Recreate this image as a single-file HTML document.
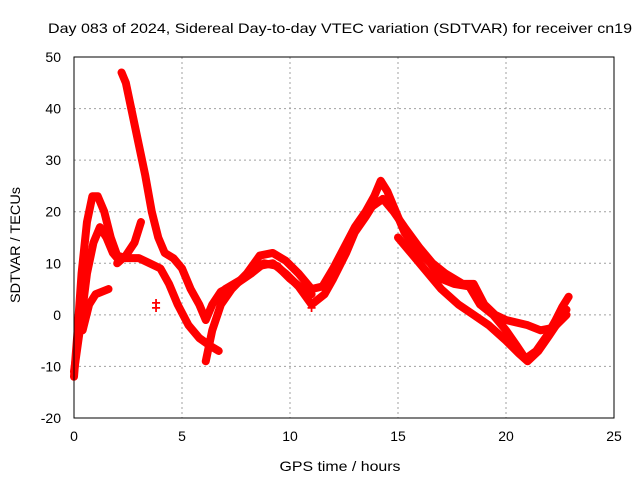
<!DOCTYPE html>
<html><head><meta charset="utf-8"><style>
body{margin:0;background:#fff}
svg{display:block;font-family:"Liberation Sans",sans-serif}
</style></head><body>
<svg id="chart" width="640" height="480">
<text x="340" y="33" text-anchor="middle" font-size="14" textLength="584" lengthAdjust="spacingAndGlyphs">Day 083 of 2024, Sidereal Day-to-day VTEC variation (SDTVAR) for receiver cn19</text>
<text x="340" y="471" text-anchor="middle" font-size="14" textLength="121" lengthAdjust="spacingAndGlyphs">GPS time / hours</text>
<text transform="translate(20,245) rotate(-90)" text-anchor="middle" font-size="14" textLength="116" lengthAdjust="spacingAndGlyphs">SDTVAR / TECUs</text>
<g id="grid"></g><g id="series"></g><g id="axes"></g>
</svg>
<script>
const xTicks=[0,5,10,15,20,25];
const yTicks=[-20,-10,0,10,20,30,40,50];
const trackA=[[2.2,47],[2.4,45],[2.7,39],[3.0,33],[3.3,27],[3.6,20],[3.9,15],[4.2,12],[4.6,11],[5.0,9],[5.4,5],[5.8,2],[6.1,-1],[6.4,2],[6.8,4.5],[7.5,6],[8.2,8],[8.8,10],[9.4,9.5],[10,7],[10.6,5],[11,4]];
const trackB=[[0,-12],[0.15,-4],[0.35,8],[0.6,18],[0.85,23],[1.1,23],[1.4,20],[1.7,15],[2.0,11.5],[2.4,11],[3,11],[3.5,10],[4,9],[4.4,6],[4.8,2],[5.3,-2],[5.8,-4.5],[6.3,-6],[6.7,-7]];
const trackC=[[0,-11],[0.3,-2],[0.6,8],[0.9,14],[1.2,17],[1.5,15],[1.8,12],[2.1,10.5]];
const trackD=[[0.4,-3],[0.7,2],[1.0,4],[1.6,5]];
const trackE=[[2.0,10],[2.4,11.5],[2.8,14],[3.1,18]];
const trackF=[[6.1,-9],[6.4,-3],[6.8,2],[7.3,5],[8,8],[8.6,11.5],[9.2,12],[9.8,10.5],[10.4,8],[11,5],[11.5,5.5],[12,9],[12.5,13],[13,17],[13.5,20],[13.9,23],[14.2,26],[14.5,24],[14.9,20],[15.3,16],[15.8,13],[16.5,10],[17,7],[17.6,6],[18.3,5.5],[18.8,2],[19.4,0],[20,-3],[20.5,-6],[20.9,-8.5],[21.4,-7],[21.9,-4],[22.3,-1],[22.6,1.5],[22.9,3.5]];
const trackG=[[7,5],[7.8,7],[8.6,9.5],[9.2,10],[9.8,8],[10.4,5.5],[11,2],[11.6,4],[12,7],[12.6,12],[13,16],[13.5,19],[13.8,21],[14.3,22.5],[14.8,20],[15.3,17],[16,13],[16.6,10],[17.2,8],[18,6],[18.5,6],[19,2],[19.5,0],[20,-1],[21,-2],[21.6,-3],[22.2,-2.5],[22.8,0]];
const trackH=[[15,15],[15.6,12],[16.2,9],[17,5],[17.8,2],[18.5,0],[19.2,-2],[20,-5],[20.6,-7.5],[21,-9],[21.5,-7],[22,-4],[22.8,1]];
const isolated=[[3.8,1.5],[3.8,2.5],[11,1.5]];
const tracks=[trackA,trackB,trackC,trackD,trackE,trackF,trackG,trackH];
const X0=74,X1=614,Y0=418,Y1=57;
const sx=h=>X0+(h-0)/25*(X1-X0);
const sy=v=>Y0-(v+20)/70*(Y0-Y1);
const NS='http://www.w3.org/2000/svg';
const grid=document.getElementById('grid'),axes=document.getElementById('axes'),ser=document.getElementById('series');
function mk(tag,attrs,parent){const e=document.createElementNS(NS,tag);for(const k in attrs)e.setAttribute(k,attrs[k]);parent.appendChild(e);return e;}
xTicks.forEach(t=>{const x=sx(t);
 if(t>0&&t<25){const l=mk('line',{x1:x,x2:x,y1:Y1,y2:Y0,stroke:'#a0a0a0','stroke-dasharray':'2,3'},grid);}
 const tx=mk('text',{x:x,y:Y0+23,'text-anchor':'middle','font-size':14},axes);tx.textContent=t;
 
 
});
yTicks.forEach(t=>{const y=sy(t);
 if(t>-20&&t<50){const l=mk('line',{x1:X0,x2:X1,y1:y,y2:y,stroke:'#a0a0a0','stroke-dasharray':'2,3'},grid);}
 const tx=mk('text',{x:X0-13,y:y+5,'text-anchor':'end','font-size':14},axes);tx.textContent=t;
 
 
});
const fr=mk('rect',{x:X0,y:Y1,width:X1-X0,height:Y0-Y1,fill:'none',stroke:'#000'},axes);


tracks.forEach((tr,i)=>{
 const p=mk('polyline',{points:tr.map(d=>sx(d[0])+','+sy(d[1])).join(' '),fill:'none',stroke:'#f00','stroke-width':8,'stroke-linejoin':'round','stroke-linecap':'round'},ser);
 
 
});
isolated.forEach(d=>{
 const t=mk('text',{x:sx(d[0]),y:sy(d[1])+6,'text-anchor':'middle','font-size':16,'font-weight':'bold',fill:'#f00'},ser);t.textContent='+';
 
 
});
</script>
</body></html>
